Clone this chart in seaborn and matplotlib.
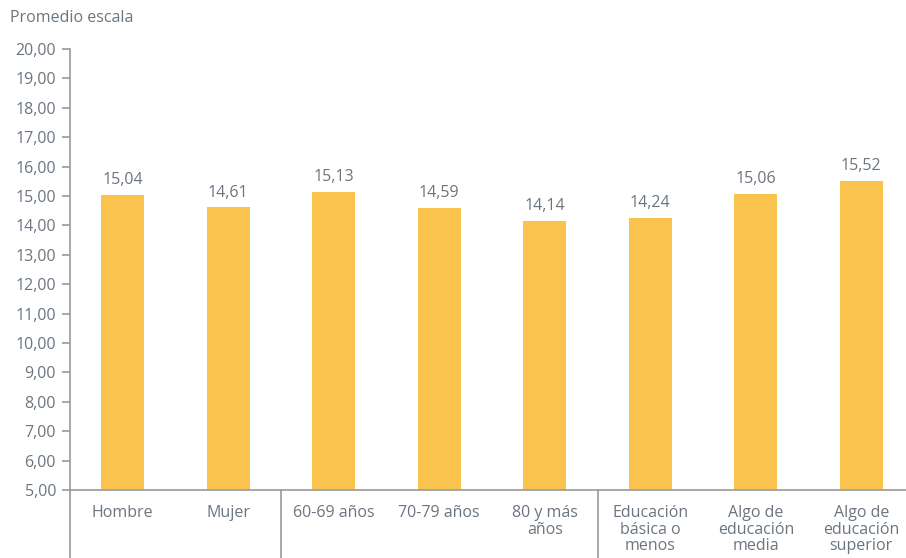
import matplotlib
matplotlib.use("Agg")
import matplotlib.pyplot as plt
import seaborn as sns
import pandas as pd

categories = ["Hombre", "Mujer", "60-69 años", "70-79 años", "80 y más\naños",
              "Educación\nbásica o\nmenos", "Algo de\neducación\nmedia", "Algo de\neducación\nsuperior"]
values = [15.04, 14.61, 15.13, 14.59, 14.14, 14.24, 15.06, 15.52]
value_labels = ["15,04", "14,61", "15,13", "14,59", "14,14", "14,24", "15,06", "15,52"]
y_ticks = [5, 6, 7, 8, 9, 10, 11, 12, 13, 14, 15, 16, 17, 18, 19, 20]
y_title = "Promedio escala"

sns.set_theme(style="white")
plt.rcParams['font.family'] = ['Open Sans', 'DejaVu Sans']

text_col = "#6b7580"
axis_col = "#9a9a9a"
bar_col = "#F9C34E"

W, H = 906, 558
fig = plt.figure(figsize=(W / 100, H / 100), dpi=100)
ax_left, ax_right = 70 / W, 1.0
y_bot_px, y_top_px = 490, 49
ax = fig.add_axes([ax_left, 1 - y_bot_px / H, ax_right - ax_left, (y_bot_px - y_top_px) / H])

df = pd.DataFrame({"cat": categories, "val": values})
sns.barplot(data=df, x="cat", y="val", color=bar_col, width=0.41, saturation=1, ax=ax, zorder=2,
            edgecolor="none", linewidth=0)

ax.set_ylim(5, 20)
ax.set_xlim(-0.5, 7.424)
ax.set_yticks(y_ticks)
ax.set_yticklabels([f"{t:.2f}".replace(".", ",") for t in y_ticks], color=text_col, fontsize=11.5)
ax.set_xticks(range(len(categories)))
ax.set_xticklabels(categories, color=text_col, fontsize=11.5, linespacing=1.05)
ax.set_xlabel("")
ax.set_ylabel("")

for s in ["top", "right"]:
    ax.spines[s].set_visible(False)
for s in ["left", "bottom"]:
    ax.spines[s].set_color(axis_col)
    ax.spines[s].set_linewidth(1.2)

ax.tick_params(axis="y", direction="out", length=6, width=1.2, color=axis_col, pad=4, left=True)
ax.tick_params(axis="x", length=0, pad=11)

# values above bars
for i, (v, lab) in enumerate(zip(values, value_labels)):
    ax.annotate(lab, (i, v), xytext=(0, 5), textcoords="offset points",
                ha="center", va="bottom", color=text_col, fontsize=11.5)

# separators below axis
for xs in [-0.5, 1.5, 4.5]:
    ax.plot([xs, xs], [5, 5 - (H - y_bot_px) / (y_bot_px - y_top_px) * 15 - 1],
            color=axis_col, lw=1.2, clip_on=False, zorder=3)

fig.text(10 / W, 1 - 18 / H, y_title, color=text_col, fontsize=11.5, ha="left", va="center")

fig.savefig("out.png", dpi=100)
